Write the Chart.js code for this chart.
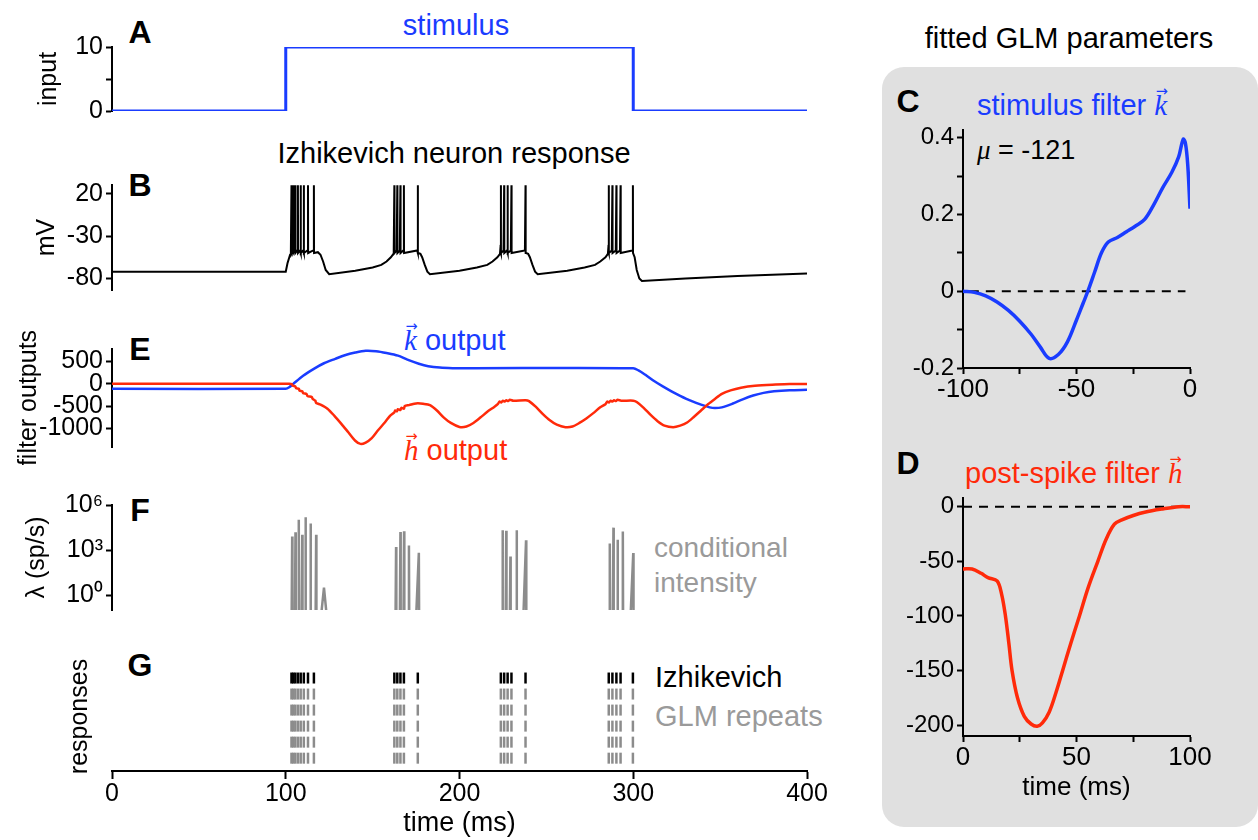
<!DOCTYPE html>
<html>
<head>
<meta charset="utf-8">
<title>Izhikevich neuron - fitted GLM</title>
<script src="https://cdn.jsdelivr.net/npm/chart.js@4.4.1/dist/chart.umd.min.js"></script>
<style>
  html, body { margin: 0; padding: 0; background: #fff; }
  body { position: relative; width: 1258px; height: 840px; overflow: hidden;
         font-family: 'Liberation Sans', Arial, Helvetica, sans-serif; }
  canvas { position: absolute; }
  #glmBox { position: absolute; left: 882px; top: 67px; width: 376px; height: 760px;
            background: #e0e0e0; border-radius: 22px; }
  .txt { position: absolute; white-space: nowrap; line-height: 1; font-size: 29px;
         transform: translate(-50%, -50%); }
  .left { transform: translate(0, -50%); }
  .letter { font-weight: bold; font-size: 32px; }
  .vec { position: relative; display: inline-block; font-family: 'Liberation Serif', 'DejaVu Serif', serif;
         font-style: italic; }
  .vec b { position: absolute; left: 0.1em; top: -0.5em; font-size: 0.5em; font-weight: normal;
           font-style: normal; font-family: 'DejaVu Sans', sans-serif; }
</style>
</head>
<body>
<div id="glmBox"></div>

<!-- left column labels -->
<div class="txt letter" style="left:140px;top:32px">A</div>
<div class="txt letter" style="left:140px;top:185px">B</div>
<div class="txt letter" style="left:140px;top:349px">E</div>
<div class="txt letter" style="left:140px;top:510px">F</div>
<div class="txt letter" style="left:140px;top:665px">G</div>
<div class="txt" style="left:456px;top:25px;color:#1a3cff">stimulus</div>
<div class="txt" style="left:454px;top:153px">Izhikevich neuron response</div>
<div class="txt left" style="left:404px;top:340px;color:#1a3cff"><span class="vec">k<b>&#8594;</b></span> output</div>
<div class="txt left" style="left:404px;top:450px;color:#ff2a0a"><span class="vec">h<b>&#8594;</b></span> output</div>
<div class="txt left" style="left:654px;top:548px;color:#9a9a9a;font-size:28px">conditional</div>
<div class="txt left" style="left:654px;top:583px;color:#9a9a9a;font-size:28px">intensity</div>
<div class="txt left" style="left:655px;top:677px">Izhikevich</div>
<div class="txt left" style="left:655px;top:716px;color:#9a9a9a">GLM repeats</div>

<!-- right column labels -->
<div class="txt" style="left:1069px;top:38px">fitted GLM parameters</div>
<div class="txt letter" style="left:908px;top:101px">C</div>
<div class="txt letter" style="left:908px;top:463px">D</div>
<div class="txt left" style="left:977px;top:105px;color:#1a3cff">stimulus filter <span class="vec">k<b>&#8594;</b></span></div>
<div class="txt left" style="left:977px;top:150px;font-size:27px"><span class="vec">&#956;</span> = -121</div>
<div class="txt left" style="left:965px;top:473px;color:#ff2a0a">post-spike filter <span class="vec">h<b>&#8594;</b></span></div>

<script>
/* ===============================
   DATA
================================ */
// A – stimulus (ms, input)
const stimTime  = [0, 100, 100, 300, 300, 400];
const stimValue = [0, 0, 10, 10, 0, 0];

// B – subthreshold membrane potential (mV); spikes are added from spikeTimes
const vmTime = [0, 100, 101, 102.5,
  116.5, 118.5, 120, 121.5, 123, 125, 140, 150, 155, 158, 160.5, 162,
  176.3, 177.5, 178.5, 180, 181.5, 183, 200, 210, 216, 219, 221.8, 223.3,
  238.3, 239.5, 240.5, 242, 243.5, 245, 262, 272, 278, 281, 284, 285.4,
  300, 300.8, 302, 303.5, 305, 330, 360, 400];
const vmValue = [-72, -72, -62, -52,
  -50, -49, -52, -60, -70, -75, -71, -67, -64, -60, -55, -51,
  -50, -51, -55, -64, -72, -75, -71, -67, -64, -60, -55, -51,
  -50, -51, -55, -64, -72, -75, -71, -67, -64, -60, -55, -51,
  -50, -55, -70, -80, -83, -80, -77, -74];
const spikeTimes = [103.3, 104.3, 105.5, 107, 108.6, 110.4, 112.8, 116.2,
  162.5, 164.2, 166, 168, 176,
  223.8, 225.7, 227.7, 229.9, 238,
  285.9, 288, 290.3, 292.7, 299.8];
const spikeFoot = -47, spikePeak = 30, spikeReset = -50;

// E – filter outputs
const kOutTime = [0, 100, 102, 104.4, 110, 116.4, 122, 128.5, 134, 140,
  146, 152, 158, 164.6, 170, 176.6, 182, 188.7, 196, 205,
  300, 303, 307, 312, 317, 322, 327, 333, 339, 344,
  347, 351, 357, 363, 369, 375, 381, 390, 400];
const kOutValue = [-115, -115, -80, 0, 180, 340, 460, 560, 640, 700,
  740, 730, 690, 630, 540, 450, 395, 362, 350, 348,
  348, 300, 200, 60, -60, -170, -270, -380, -470, -530,
  -545, -530, -450, -350, -265, -205, -170, -145, -135];
const hOutTime = [0, 102, 103.5, 104, 105.5, 106, 107.5, 108, 109.5, 110,
  112, 112.5, 115, 115.5, 117, 117.5, 120, 124, 128, 132,
  136, 140, 143, 146, 149.5, 153, 157, 160, 162.5, 163,
  164, 164.5, 166, 166.5, 168, 168.5, 171, 174, 176, 179,
  183, 187, 191, 195, 200, 204, 208, 212, 216, 220,
  222, 223, 224, 225, 226, 227, 228, 229, 231, 238,
  240, 244, 248, 252, 256, 261, 265, 269, 273, 277,
  281, 284, 285, 286, 287, 288, 289, 290, 291, 293,
  300, 302, 306, 310, 314, 318, 323, 327, 331, 335,
  339, 343, 347, 351, 356, 362, 370, 380, 390, 400];
const hOutValue = [0, 0, -10, -45, -60, -100, -115, -155, -170, -210,
  -230, -275, -300, -340, -380, -430, -470, -560, -720, -900,
  -1090, -1280, -1350, -1320, -1220, -1050, -870, -720, -640, -600,
  -620, -570, -590, -540, -560, -500, -480, -450, -440, -450,
  -480, -600, -760, -880, -970, -960, -880, -760, -630, -520,
  -460, -400, -420, -380, -400, -370, -390, -360, -380, -370,
  -390, -520, -680, -820, -920, -975, -960, -880, -780, -660,
  -530, -460, -400, -420, -380, -400, -370, -390, -360, -380,
  -380, -410, -540, -700, -840, -940, -975, -940, -870, -740,
  -600, -460, -340, -228, -150, -90, -45, -20, -8, -3];

// F – conditional intensity peaks (sp/s)
const lambdaTime  = [103.7, 105.6, 107.5, 109.5, 111.4, 114.3, 117.5, 122.0,
  163.5, 166.0, 168.1, 170.9, 176.6,
  224.8, 226.9, 229.3, 232.9, 238.3,
  286.5, 288.6, 291.0, 294.0, 300.0];
const lambdaPeak  = [7800, 15000, 105000, 10500, 150000, 59000, 10500, 3.1,
  1600, 16000, 18000, 2000, 660,
  21000, 19000, 370, 21000, 4400,
  2700, 31000, 4800, 17000, 620];
const lambdaStart = [103.4, 105.3, 107.2, 109.2, 111.1, 114.0, 117.2, 120.4,
  163.2, 165.7, 167.8, 170.6, 175.1,
  224.5, 226.6, 229.0, 232.6, 236.8,
  286.2, 288.3, 290.7, 293.7, 298.5];
const lambdaEnd   = [103.85, 105.75, 107.65, 109.65, 111.55, 114.45, 117.65, 123.5,
  163.65, 166.15, 168.25, 171.05, 176.75,
  224.95, 227.05, 229.45, 233.05, 238.45,
  286.65, 288.75, 291.15, 294.15, 300.15];
const lambdaFloor = 0.05;

// G – rasters (Izhikevich = spikeTimes, GLM repeats below)
const glmSpikes = [103.3, 104.3, 105.5, 107, 108.6, 110.4, 112.8, 116.2,
  162.5, 164.2, 166, 168, 176,
  223.8, 225.7, 227.7, 229.9, 238,
  285.9, 288, 290.3, 292.7, 299.8];
const glmRepeatCount = 5;

// C – stimulus filter k
const filterKTime  = [-100, -95, -90, -85, -80, -75, -70, -66, -62, -58,
  -54, -50, -47, -45, -42, -39, -36, -32, -28, -24,
  -20, -16, -12, -8, -5, -3, -2, -1, 0];
const filterKValue = [0, -0.003, -0.012, -0.028, -0.05, -0.078, -0.112, -0.145, -0.175, -0.165,
  -0.132, -0.075, -0.03, 0, 0.05, 0.1, 0.128, 0.14, 0.155, 0.17,
  0.187, 0.225, 0.27, 0.31, 0.35, 0.396, 0.385, 0.33, 0.215];

// D – post-spike filter h
const filterHTime  = [0, 4, 8, 11, 15, 17, 18.7, 20.2, 21.6, 24,
  27, 30, 32.7, 35, 38, 41, 43.9, 47.5, 51.3, 55,
  59.4, 63, 66.7, 70, 75, 80, 88, 95, 100];
const filterHValue = [-57, -57, -61, -65, -68, -80, -100, -125, -150, -175,
  -192, -199, -201, -198, -188, -170, -150, -125, -100, -75,
  -50, -30, -16, -12, -8, -5, -2, 0, 0];

// tick labels
const timeTicks = [0, 100, 200, 300, 400];
const timeLabels = ['0', '100', '200', '300', '400'];

/* ===============================
   CHART.JS SETUP
================================ */
const FONT = "'Liberation Sans', Arial, Helvetica, sans-serif";
const BLUE = '#1a3cff', RED = '#ff2a0a', GRAY = '#8c8c8c';

Chart.defaults.font.family = FONT;
Chart.defaults.color = '#000';
Chart.defaults.animation = false;
Chart.defaults.responsive = false;
Chart.defaults.events = [];
Chart.defaults.plugins.legend.display = false;
Chart.defaults.plugins.tooltip.enabled = false;

function xy(xs, ys) {
  return xs.map((x, i) => ({ x: x, y: ys[i] }));
}

function makeChart(left, top, width, height, config) {
  const c = document.createElement('canvas');
  c.width = width;
  c.height = height;
  c.style.left = left + 'px';
  c.style.top = top + 'px';
  c.style.width = width + 'px';
  c.style.height = height + 'px';
  document.body.appendChild(c);
  config.options.devicePixelRatio = 1;
  return new Chart(c, config);
}

function trace(points, color, width, extra) {
  return Object.assign({
    data: points, borderColor: color, borderWidth: width,
    showLine: true, pointRadius: 0, tension: 0, fill: false
  }, extra || {});
}

// axis with fixed tick list and fixed box size
function axis(o) {
  const ax = {
    type: o.type || 'linear',
    position: o.position,
    min: o.min,
    max: o.max,
    border: { display: true, color: '#000', width: 2 },
    grid: { drawOnChartArea: false, tickLength: o.tickLength || 6, tickWidth: 2, tickColor: '#000' },
    ticks: {
      autoSkip: false, maxRotation: 0, color: '#000',
      padding: o.pad === undefined ? 3 : o.pad,
      font: { size: o.size || 25 },
      callback: v => {
        const i = o.ticks.indexOf(v);
        return i < 0 ? '' : o.labels[i];
      }
    },
    afterBuildTicks: s => { s.ticks = o.ticks.map(v => ({ value: v })); },
    title: {
      display: !!o.title, text: o.title || '', color: '#000',
      font: { size: o.titleSize || 25 }, padding: o.titlePad || 0
    }
  };
  if (o.position === 'left') ax.afterFit = s => { s.width = o.fit; };
  else ax.afterFit = s => { s.height = o.fit; };
  return ax;
}

const hiddenTime = () => ({ type: 'linear', min: 0, max: 400, display: false });
const leftPad = { top: 16, bottom: 16, left: 0, right: 33 };

/* ===============================
   A – STIMULUS
================================ */
makeChart(0, 29, 840, 100, {
  type: 'scatter',
  data: { datasets: [trace(xy(stimTime, stimValue), BLUE, 3)] },
  options: {
    layout: { padding: leftPad },
    scales: {
      x: hiddenTime(),
      y: axis({ position: 'left', min: 0, max: 10, ticks: [0, 5, 10], labels: ['0', '', '10'],
                fit: 112, title: 'input', titlePad: { top: 34, bottom: 0 } })
    }
  }
});

/* ===============================
   B – IZHIKEVICH RESPONSE
================================ */
const vmPoints = xy(vmTime, vmValue);
spikeTimes.forEach(t => {
  vmPoints.push({ x: t - 0.35, y: spikeFoot }, { x: t, y: spikePeak }, { x: t + 0.08, y: spikeReset });
});
vmPoints.sort((a, b) => a.x - b.x);

makeChart(0, 167, 840, 141, {
  type: 'scatter',
  data: { datasets: [trace(vmPoints, '#000', 2)] },
  options: {
    layout: { padding: leftPad },
    scales: {
      x: hiddenTime(),
      y: axis({ position: 'left', min: -93.6, max: 30.2, ticks: [-80, -30, 20], labels: ['-80', '-30', '20'],
                fit: 112, title: 'mV', titlePad: { top: 32, bottom: 0 } })
    }
  }
});

/* ===============================
   E – FILTER OUTPUTS
================================ */
makeChart(0, 331, 840, 134, {
  type: 'scatter',
  data: {
    datasets: [
      trace(xy(hOutTime, hOutValue), RED, 2.5, { tension: 0.25 }),
      trace(xy(kOutTime, kOutValue), BLUE, 2.5, { tension: 0.3 })
    ]
  },
  options: {
    layout: { padding: leftPad },
    scales: {
      x: hiddenTime(),
      y: axis({ position: 'left', min: -1420, max: 780, ticks: [-1000, -500, 0, 500],
                labels: ['-1000', '-500', '0', '500'], fit: 112,
                title: 'filter outputs', titlePad: { top: 14, bottom: 0 } })
    }
  }
});

/* ===============================
   F – CONDITIONAL INTENSITY
================================ */
const lambdaPoints = [];
lambdaTime.forEach((t, i) => {
  lambdaPoints.push({ x: lambdaStart[i], y: lambdaFloor },
                    { x: t, y: lambdaPeak[i] },
                    { x: lambdaEnd[i], y: lambdaFloor });
});

makeChart(0, 487, 840, 141, {
  type: 'scatter',
  data: { datasets: [trace(lambdaPoints, GRAY, 2.5)] },
  options: {
    layout: { padding: leftPad },
    scales: {
      x: hiddenTime(),
      y: axis({ type: 'logarithmic', position: 'left', min: 0.1, max: 1e6, ticks: [1, 1e3, 1e6],
                labels: ['10\u2070', '10\u00b3', '10\u2076'], fit: 112,
                title: '\u03bb (sp/s)', titlePad: { top: 22, bottom: 0 } })
    }
  }
});

/* ===============================
   G – RASTERS
================================ */
function rasterRow(times, row, color) {
  return {
    data: times.map(t => ({ x: t, y: row })),
    showLine: false, pointStyle: 'line', pointRotation: 90,
    pointRadius: 5.5, pointBorderWidth: 2.5,
    pointBorderColor: color, pointBackgroundColor: color, borderColor: color
  };
}
const rasterSets = [rasterRow(spikeTimes, 0, '#000')];
for (let r = 1; r <= glmRepeatCount; r++) rasterSets.push(rasterRow(glmSpikes, r, GRAY));

makeChart(0, 640, 840, 200, {
  type: 'scatter',
  data: { datasets: rasterSets },
  options: {
    layout: { padding: { top: 22, bottom: 0, left: 0, right: 33 } },
    scales: {
      x: axis({ position: 'bottom', min: 0, max: 400, ticks: timeTicks, labels: timeLabels,
                fit: 69, tickLength: 8, pad: 0, title: 'time (ms)', titleSize: 27,
                titlePad: { top: 0, bottom: 0 } }),
      y: {
        type: 'linear', position: 'left', min: -1, max: 5.8, reverse: true,
        afterFit: s => { s.width = 112; },
        border: { display: false }, grid: { display: false }, ticks: { display: false },
        title: { display: true, text: 'responses', color: '#000', font: { size: 25 },
                 padding: { top: 65, bottom: 0 } }
      }
    }
  }
});

/* ===============================
   C – STIMULUS FILTER
================================ */
makeChart(880, 110, 378, 310, {
  type: 'scatter',
  data: {
    datasets: [
      trace(xy(filterKTime, filterKValue), BLUE, 3.5, { tension: 0.35 }),
      trace([{ x: -97, y: 0 }, { x: -2, y: 0 }], '#000', 2, { borderDash: [9, 7] })
    ]
  },
  options: {
    layout: { padding: { top: 20, bottom: 0, left: 0, right: 68 } },
    scales: {
      x: axis({ position: 'bottom', min: -100, max: 0, ticks: [-100, -75, -50, -25, 0],
                labels: ['-100', '', '-50', '', '0'], fit: 52, pad: 0, size: 26 }),
      y: axis({ position: 'left', min: -0.2, max: 0.42, ticks: [-0.2, -0.1, 0, 0.1, 0.2, 0.3, 0.4],
                labels: ['-0.2', '', '0', '', '0.2', '', '0.4'], fit: 83, size: 24 })
    }
  }
});

/* ===============================
   D – POST-SPIKE FILTER
================================ */
makeChart(880, 478, 378, 342, {
  type: 'scatter',
  data: {
    datasets: [
      trace(xy(filterHTime, filterHValue), RED, 3.5, { tension: 0.35 }),
      trace([{ x: 0, y: 0 }, { x: 100, y: 0 }], '#000', 2, { borderDash: [9, 7] })
    ]
  },
  options: {
    layout: { padding: { top: 20, bottom: 0, left: 0, right: 68 } },
    scales: {
      x: axis({ position: 'bottom', min: 0, max: 100, ticks: [0, 25, 50, 75, 100],
                labels: ['0', '', '50', '', '100'], fit: 84, pad: 0, size: 26,
                title: 'time (ms)', titleSize: 26, titlePad: { top: 0, bottom: 17 } }),
      y: axis({ position: 'left', min: -210, max: 8, ticks: [-200, -150, -100, -50, 0],
                labels: ['-200', '-150', '-100', '-50', '0'], fit: 83, size: 24 })
    }
  }
});
</script>
</body>
</html>
